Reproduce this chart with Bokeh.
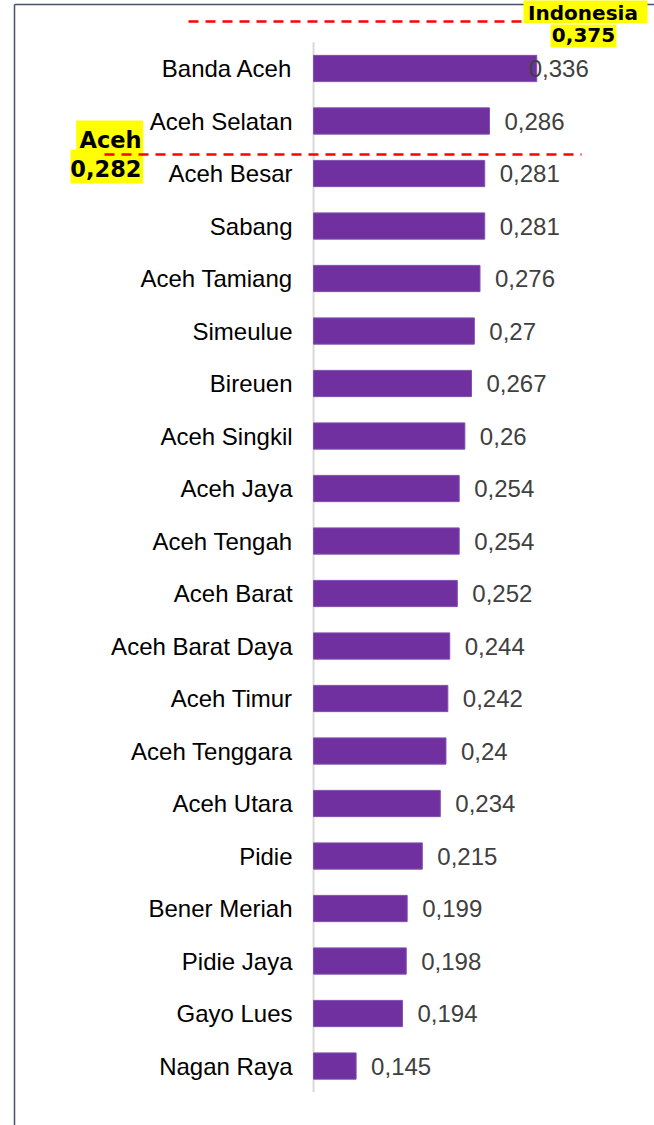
from bokeh.plotting import figure
from bokeh.models import Range1d, ColumnDataSource, Label, Arrow, BoxAnnotation
from bokeh.core.properties import value
from bokeh.embed import file_html
from bokeh.resources import INLINE

# ---- data ----
regions = ["Banda Aceh", "Aceh Selatan", "Aceh Besar", "Sabang", "Aceh Tamiang",
           "Simeulue", "Bireuen", "Aceh Singkil", "Aceh Jaya", "Aceh Tengah",
           "Aceh Barat", "Aceh Barat Daya", "Aceh Timur", "Aceh Tenggara",
           "Aceh Utara", "Pidie", "Bener Meriah", "Pidie Jaya", "Gayo Lues",
           "Nagan Raya"]
values = [0.336, 0.286, 0.281, 0.281, 0.276, 0.27, 0.267, 0.26, 0.254, 0.254,
          0.252, 0.244, 0.242, 0.24, 0.234, 0.215, 0.199, 0.198, 0.194, 0.145]
ref_names = ["Indonesia", "Aceh"]
ref_values = [0.375, 0.282]

def fmt(v):
    return str(v).replace(".", ",")

# ---- layout (style) ----
W, H = 654, 1125
X_MIN = 0.1                        # value axis starts here
X_LEFT, X_RIGHT = -0.231, 0.4605   # canvas extent in value units
Y_TOP, Y_BOTTOM = 1.2952, -20.133  # canvas extent in row units
LABEL_LIMIT = 0.391                # right edge for value labels

ypos = [-i for i in range(len(regions))]

p = figure(width=W, height=H, x_range=Range1d(X_LEFT, X_RIGHT),
           y_range=Range1d(Y_BOTTOM, Y_TOP),
           x_axis_location=None, y_axis_location=None,
           output_backend="svg", toolbar_location=None,
           min_border=0, min_border_left=0, min_border_right=0,
           min_border_top=0, min_border_bottom=0)
p.outline_line_color = None
p.grid.visible = False
p.background_fill_color = "white"
p.border_fill_color = "white"

# category axis line
p.segment(x0=[X_MIN], x1=[X_MIN], y0=[ypos[0] + 0.5], y1=[ypos[-1] - 0.5],
          line_color="#D9D9D9", line_width=2)

# bars
src = ColumnDataSource(dict(y=ypos, v=values, name=regions))
p.hbar(y="y", left=X_MIN, right="v", height=0.5, source=src,
       fill_color="#7030A0", line_color="#8050B0", line_width=1)

# category labels
p.text(x=X_MIN, y="y", text="name", source=src, x_offset=-21,
       text_align="right", text_baseline="middle",
       text_font=value("Liberation Sans"), text_font_size="24px",
       text_color="#000000")

# value labels
normal = dict(y=[], x=[], t=[])
clamped = dict(y=[], x=[], t=[])
px_per_unit = W / (X_RIGHT - X_LEFT)
for yy, v in zip(ypos, values):
    if v + (15 + 60) / px_per_unit > LABEL_LIMIT:
        clamped["y"].append(yy); clamped["x"].append(LABEL_LIMIT); clamped["t"].append(fmt(v))
    else:
        normal["y"].append(yy); normal["x"].append(v); normal["t"].append(fmt(v))

common = dict(text_font=value("Liberation Sans"), text_font_size="24px",
              text_color="#404040", text_baseline="middle")
p.text(x="x", y="y", text="t", source=ColumnDataSource(normal),
       text_align="left", x_offset=15, **common)
p.text(x="x", y="y", text="t", source=ColumnDataSource(clamped),
       text_align="right", **common)

def sy(y):
    return H - y

# chart border lines (decoration)
border = dict(end=None, start_units="screen", end_units="screen",
              line_color="#44546A", line_width=1.5)
p.add_layout(Arrow(x_start=14, y_start=sy(4), x_end=14, y_end=sy(H + 5), **border))
p.add_layout(Arrow(x_start=14, y_start=sy(4), x_end=W + 5, y_end=sy(4), **border))

dash = dict(end=None, start_units="screen", end_units="screen",
            line_color="#FF0000", line_width=2.5, line_dash="10 7")

def hl(l, r, t, b):
    return BoxAnnotation(left=l, right=r, top=sy(t), bottom=sy(b),
                         left_units="screen", right_units="screen",
                         top_units="screen", bottom_units="screen",
                         fill_color="#FFFF00", fill_alpha=1.0, line_color=None)

def txt(x, y, s, size, align):
    return Label(x=x, y=sy(y), text=s, x_units="screen", y_units="screen",
                 text_font="DejaVu Sans", text_font_style="bold",
                 text_font_size=size, text_color="#000000",
                 text_align=align, text_baseline="middle")

# Indonesia reference
p.add_layout(Arrow(x_start=188, y_start=sy(21), x_end=535, y_end=sy(21), **dash))
p.add_layout(hl(523, 647, -2, 22.5))
p.add_layout(hl(550, 616, 24, 47))
p.add_layout(txt(582.5, 12, ref_names[0], "20px", "center"))
p.add_layout(txt(583, 34.5, fmt(ref_values[0]), "20px", "center"))

# Aceh reference
p.add_layout(hl(75.7, 142.7, 120, 149))
p.add_layout(hl(70, 142.7, 149, 183))
p.add_layout(txt(141, 139.5, ref_names[1], "22.5px", "right"))
p.add_layout(txt(141, 167.5, fmt(ref_values[1]), "22.5px", "right"))
p.add_layout(Arrow(x_start=104, y_start=sy(154), x_end=581, y_end=sy(154), **dash))

open("out.html", "w").write(file_html(p, INLINE))
